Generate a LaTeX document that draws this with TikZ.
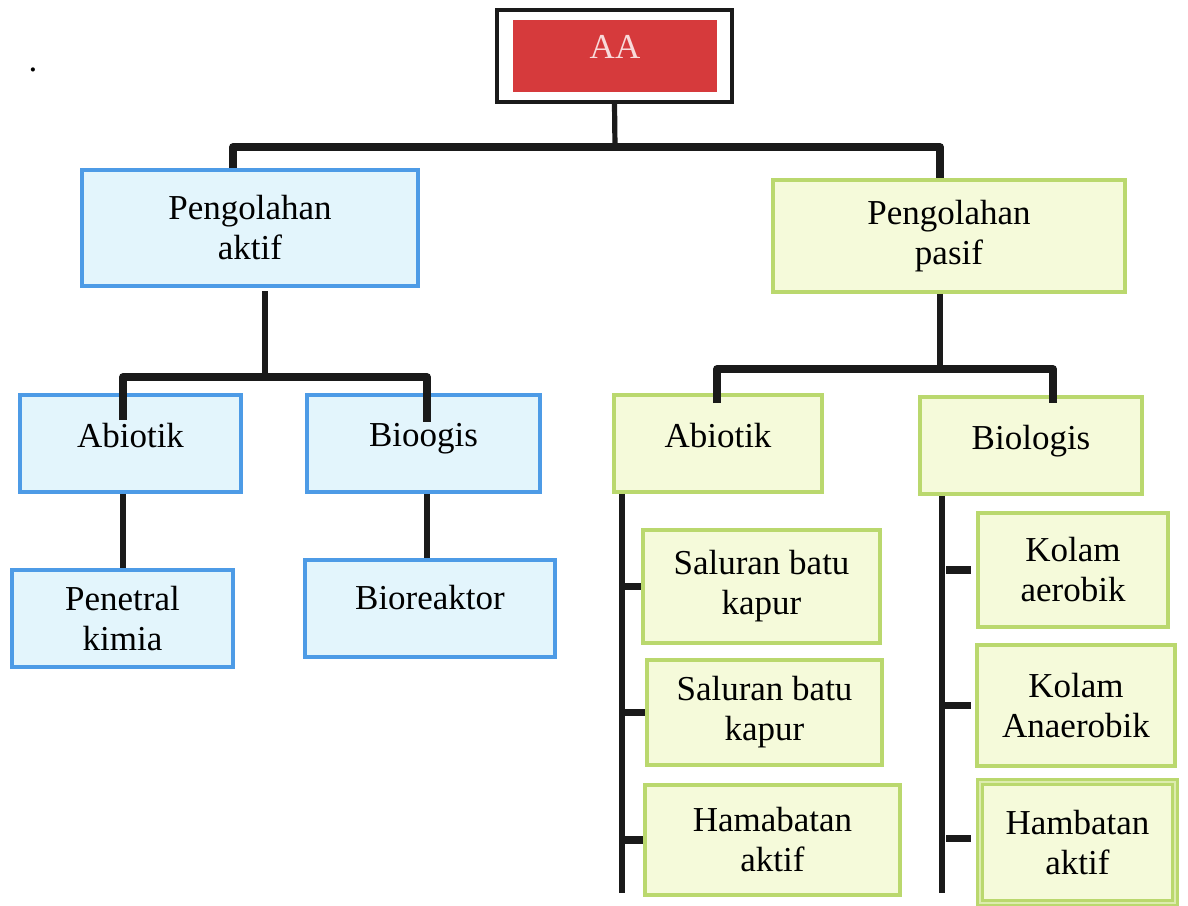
\documentclass[tikz,border=0pt]{standalone}
\usepackage{fontspec}
\setmainfont{Liberation Serif}
\definecolor{bluebd}{HTML}{4D9BE6}
\definecolor{bluefill}{HTML}{E3F5FC}
\definecolor{greenbd}{HTML}{BAD86E}
\definecolor{greenfill}{HTML}{F5FADA}
\definecolor{aared}{HTML}{D63A3C}
\definecolor{aatext}{HTML}{F8DADA}
\definecolor{linec}{HTML}{1A1A1A}
\begin{document}
\begin{tikzpicture}[x=0.5pt,y=-0.5pt,
  txt/.style={font=\fontsize{17.5}{20}\selectfont, align=center, inner sep=0pt},
  bluebox/.style={txt, draw=bluebd, fill=bluefill, line width=1.8pt},
  greenbox/.style={txt, draw=greenbd, fill=greenfill, line width=1.8pt},
  greendouble/.style={txt, draw=greenbd, double=greenfill!60!greenbd, double distance=1pt, line width=1.6pt, fill=greenfill},
  bar/.style={draw=linec, line width=3.8pt, line join=round},
  vline/.style={draw=linec, line width=2.6pt},
  frame/.style={draw=linec, line width=1.6pt, fill=white, inner sep=0pt}]
\useasboundingbox (0,0) rectangle (1188,905);

\node[txt] (dot) at (33,70) {.};

% top node
\node[frame, minimum width=117.5pt, minimum height=46pt] (aaframe) at (614.5,56) {};
\node[txt, fill=aared, minimum width=102pt, minimum height=36pt, text=aatext] (aa) at (615,56) {\raisebox{9pt}{AA}};

% level 1
\node[bluebox, minimum width=168pt, minimum height=58pt] (aktif) at (250,228) {Pengolahan\\aktif};
\node[greenbox, minimum width=176pt, minimum height=56pt] (pasif) at (949,236) {Pengolahan\\pasif};

% level 2
\node[bluebox, minimum width=110.5pt, minimum height=48.5pt] (abL) at (130.5,443.5) {\raisebox{8.5pt}{Abiotik}};
\node[bluebox, minimum width=116.5pt, minimum height=48.5pt] (bioL) at (423.5,443.5) {\raisebox{8.5pt}{Bioogis}};
\node[greenbox, minimum width=104pt, minimum height=48.5pt] (abR) at (718,443.5) {\raisebox{8.5pt}{Abiotik}};
\node[greenbox, minimum width=111pt, minimum height=48.5pt] (bioR) at (1031,445.5) {\raisebox{8.5pt}{Biologis}};

% level 3 left
\node[bluebox, minimum width=110.5pt, minimum height=48.5pt] (penetral) at (122.5,618.5) {Penetral\\kimia};
\node[bluebox, minimum width=125pt, minimum height=48.5pt] (bioreak) at (430,608.5) {\raisebox{11pt}{Bioreaktor}};

% level 3 right
\node[greenbox, minimum width=118.5pt, minimum height=56.5pt] (sal1) at (761.5,586.5) {Saluran batu\\kapur};
\node[greenbox, minimum width=117.5pt, minimum height=52.5pt] (sal2) at (764.5,712.5) {Saluran batu\\kapur};
\node[greenbox, minimum width=127.5pt, minimum height=55pt] (ham1) at (772.5,840) {Hamabatan\\aktif};
\node[greenbox, minimum width=95pt, minimum height=57pt] (kol1) at (1073,570) {Kolam\\aerobik};
\node[greenbox, minimum width=99pt, minimum height=60.5pt] (kol2) at (1076,705.5) {Kolam\\Anaerobik};
\node[greendouble, minimum width=97.5pt, minimum height=60.5pt] (ham2) at (1077.5,842.5) {Hambatan\\aktif};

% connectors top
\coordinate (t0) at (615,147);
\coordinate (tl) at (233,147);
\coordinate (tr) at (940,147);
\draw[vline] (aaframe.south) -- (t0);
\draw[bar] (aktif.north -| tl) -- (tl) -- (tr) -- (pasif.north -| tr);

% left subtree
\coordinate (a1) at (265,291);
\coordinate (a2) at (265,377);
\coordinate (bl) at (123,377);
\coordinate (br) at (427,377);
\coordinate (bl2) at (123,420);
\coordinate (br2) at (427,422);
\draw[vline] (a1) -- (a2);
\draw[bar] (bl2) -- (bl) -- (br) -- (br2);
\draw[vline] (abL.south -| bl) -- (penetral.north -| bl);
\draw[vline] (bioL.south -| br) -- (bioreak.north -| br);

% right subtree
\coordinate (p1) at (940,369);
\coordinate (q1) at (717,369);
\coordinate (q2) at (1053,369);
\coordinate (q1b) at (717,403);
\coordinate (q2b) at (1053,403);
\draw[vline] (pasif.south -| p1) -- (p1);
\draw[bar] (q1b) -- (q1) -- (q2) -- (q2b);

\coordinate (v1) at (622,893);
\draw[vline] (abR.south -| v1) -- (v1);
\draw[bar] (sal1.west -| v1) -- (sal1.west);
\draw[bar] (sal2.west -| v1) -- (sal2.west);
\draw[bar] (ham1.west -| v1) -- (ham1.west);

\coordinate (v2) at (942,893);
\draw[vline] (bioR.south -| v2) -- (v2);
\draw[bar] ([xshift=-15pt]kol1.west) -- ([xshift=-2.5pt]kol1.west);
\draw[bar] ([xshift=-16pt]kol2.west) -- ([xshift=-2pt]kol2.west);
\draw[bar] ([xshift=-16pt,yshift=2pt]ham2.west) -- ([xshift=-3.5pt,yshift=2pt]ham2.west);
\end{tikzpicture}
\end{document}
